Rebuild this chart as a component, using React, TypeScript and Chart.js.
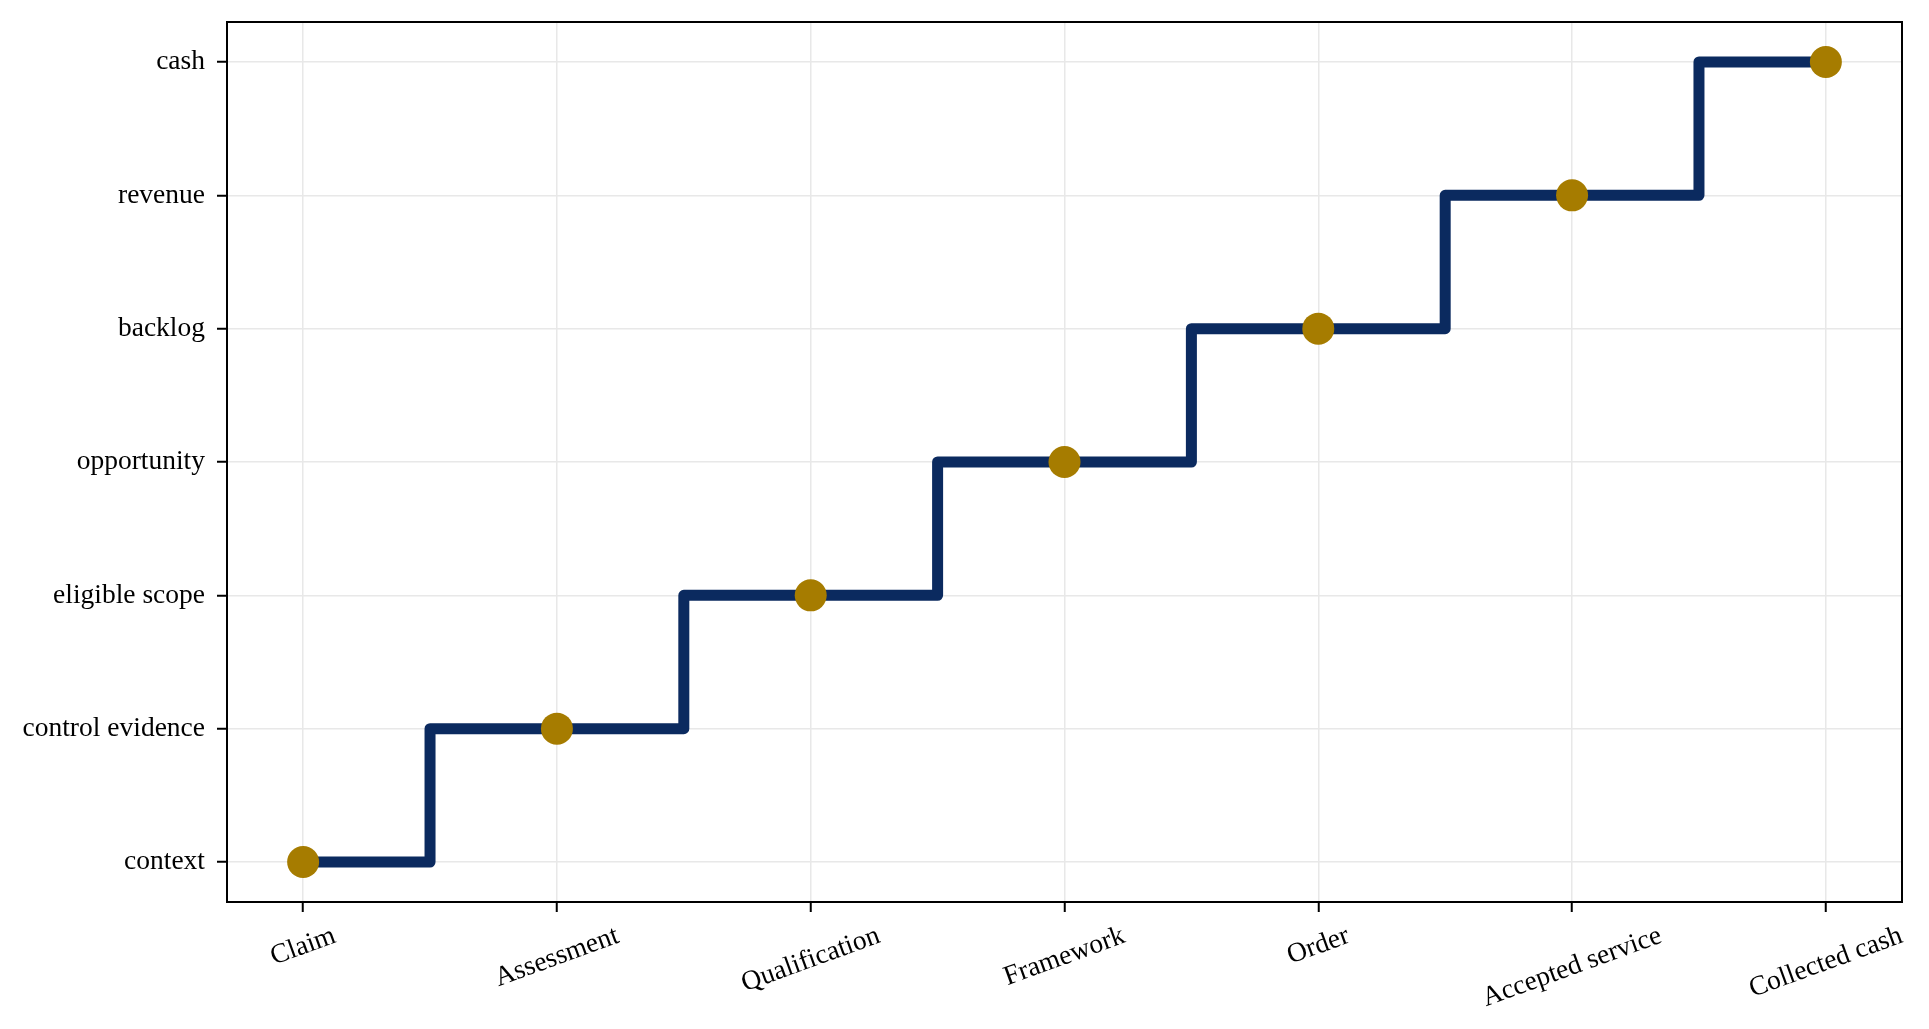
import { useEffect, useRef } from "react";
import Chart from "chart.js/auto";

const stages = [
  "Claim",
  "Assessment",
  "Qualification",
  "Framework",
  "Order",
  "Accepted service",
  "Collected cash",
];
const levelLabels = [
  "context",
  "control evidence",
  "eligible scope",
  "opportunity",
  "backlog",
  "revenue",
  "cash",
];
const levelValues = [0, 1, 2, 3, 4, 5, 6];

const FONT = "Liberation Serif";
const FONT_SIZE = 27.5;
const W = 1929;
const H = 1029;

// frame + rotated, centred x labels (matplotlib style)
const framePlugin = {
  id: "frame",
  afterDraw(chart) {
    const { ctx, chartArea } = chart;
    const xs = chart.scales.x;
    ctx.save();
    ctx.strokeStyle = "#000";
    ctx.lineWidth = 2;
    ctx.strokeRect(
      chartArea.left,
      chartArea.top,
      chartArea.right - chartArea.left,
      chartArea.bottom - chartArea.top
    );

    const angle = (20 * Math.PI) / 180;
    ctx.font = `${FONT_SIZE}px "${FONT}"`;
    ctx.fillStyle = "#000";
    ctx.textAlign = "center";
    ctx.textBaseline = "middle";
    const top = chartArea.bottom + 10 + 9;
    const h = 30;
    stages.forEach((s, i) => {
      const w = ctx.measureText(s).width;
      const bh = w * Math.sin(angle) + h * Math.cos(angle);
      const x = xs.getPixelForValue(i);
      const y = top + bh / 2;
      ctx.save();
      ctx.translate(x, y);
      ctx.rotate(-angle);
      ctx.fillText(s, 0, 0);
      ctx.restore();
    });
    ctx.restore();
  },
};

function App() {
  const canvasRef = useRef(null);

  useEffect(() => {
    document.body.style.margin = "0";
    const chart = new Chart(canvasRef.current, {
      type: "line",
      data: {
        datasets: [
          {
            data: levelValues.map((v, i) => ({ x: i, y: v })),
            stepped: "middle",
            borderColor: "#0b2a5f",
            borderWidth: 11,
            borderJoinStyle: "round",
            borderCapStyle: "round",
            fill: false,
            pointRadius: 16,
            pointBackgroundColor: "#a67c00",
            pointBorderColor: "#a67c00",
            pointBorderWidth: 0,
          },
        ],
      },
      options: {
        animation: false,
        responsive: false,
        devicePixelRatio: 1,
        layout: { padding: { top: 22, right: 27, left: 0, bottom: 0 } },
        plugins: {
          legend: { display: false },
          tooltip: { enabled: false },
        },
        scales: {
          x: {
            type: "linear",
            min: -0.3,
            max: 6.3,
            afterBuildTicks: (scale) => {
              scale.ticks = stages.map((_, i) => ({ value: i }));
            },
            afterFit: (scale) => {
              scale.height = H - 902;
              scale.paddingLeft = 0;
              scale.paddingRight = 0;
            },
            ticks: { display: false },
            grid: {
              color: "#e8e8e8",
              lineWidth: 1.5,
              tickColor: "#000",
              tickWidth: 2,
              tickLength: 10,
            },
            border: { color: "#000", width: 2 },
          },
          y: {
            type: "linear",
            min: -0.3,
            max: 6.3,
            afterBuildTicks: (scale) => {
              scale.ticks = levelValues.map((v) => ({ value: v }));
            },
            afterFit: (scale) => {
              scale.width = 227;
              scale.paddingTop = 0;
              scale.paddingBottom = 0;
            },
            ticks: {
              callback: (v) => levelLabels[v],
              color: "#000",
              padding: 12,
              font: { family: FONT, size: FONT_SIZE },
            },
            grid: {
              color: "#e8e8e8",
              lineWidth: 1.5,
              tickColor: "#000",
              tickWidth: 2,
              tickLength: 10,
            },
            border: { color: "#000", width: 2 },
          },
        },
      },
      plugins: [framePlugin],
    });
    return () => chart.destroy();
  }, []);

  return (
    <div style={{ width: W, height: H, background: "#fff" }}>
      <canvas
        ref={canvasRef}
        width={W}
        height={H}
        style={{ display: "block", width: W, height: H }}
      ></canvas>
    </div>
  );
}

export default App;
